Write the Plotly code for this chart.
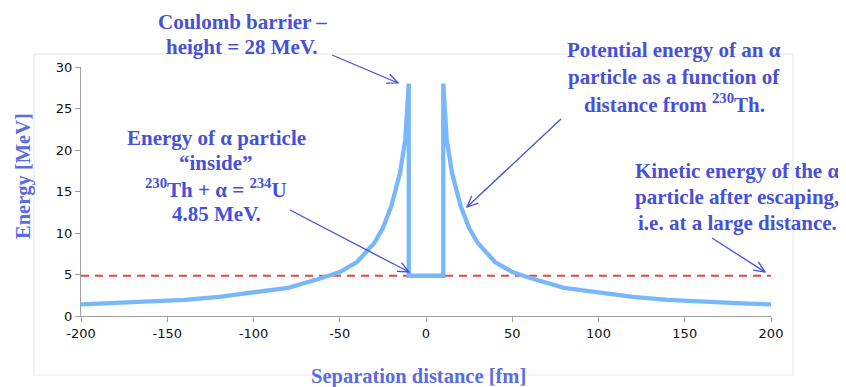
import math
import plotly.graph_objects as go

# ---- data ----
x_left = [-200, -180, -160, -140, -120, -100, -80, -60, -50, -40, -30, -25, -20, -15, -12, -10]
y_left = [1.4, 1.55, 1.72, 1.95, 2.3, 2.8, 3.4, 4.6, 5.3, 6.5, 8.8, 10.6, 13.3, 17.3, 21.3, 28.0]
x_well = [-10, 10]
y_well = [4.85, 4.85]
x_right = [10, 12, 15, 20, 25, 30, 40, 50, 60, 80, 100, 120, 140, 160, 180, 200]
y_right = [28.0, 21.3, 17.3, 13.3, 10.6, 8.8, 6.5, 5.3, 4.6, 3.4, 2.8, 2.3, 1.95, 1.72, 1.55, 1.4]
x_ke = [-200, 200]
y_ke = [4.85, 4.85]
x_ticks = [-200, -150, -100, -50, 0, 50, 100, 150, 200]
x_ticktext = ["-200", "-150", "-100", "-50", "0", "50", "100", "150", "200"]
y_ticks = [0, 5, 10, 15, 20, 25, 30]

OFF = 8  # page body margin
W, H = 838, 379
# plot area in page pixels
PL, PR, PT, PB = 81, 771, 67, 316
ML, MT = PL - OFF, PT - OFF
MR, MB = W - (PR - OFF), H - (PB - OFF)
PW, PH = PR - PL, PB - PT

def px(x):
    return (x - PL) / PW

def py(y):
    return (PB - y) / PH

x_pot = x_left + x_well + x_right
y_pot = y_left + y_well + y_right

fig = go.Figure()
fig.add_trace(go.Scatter(x=x_ke, y=y_ke, mode="lines",
                         line=dict(color="#e34848", width=1.8, dash="8px,6px"),
                         hoverinfo="skip", showlegend=False))
fig.add_trace(go.Scatter(x=x_pot, y=y_pot, mode="lines",
                         line=dict(color="#78b8fa", width=4.3),
                         hoverinfo="skip", showlegend=False))

TXT = "#4651d8"
TITLE = "#5a6ce4"
FONT = "Liberation Serif"
ann = []
shapes = []

def text(cx, ys, lines):
    for cy, s in zip(ys, lines):
        ann.append(dict(x=px(cx), y=py(cy), xref="paper", yref="paper", text=s,
                        showarrow=False, xanchor="center", yanchor="middle", align="center",
                        font=dict(family=FONT, size=21, color=TXT, weight="bold")))

def arrow(sx, sy, tx, ty):
    shapes.append(dict(type="line", xref="paper", yref="paper",
                       x0=px(sx), y0=py(sy), x1=px(tx), y1=py(ty),
                       line=dict(color=TXT, width=1.3)))
    d = math.hypot(tx - sx, ty - sy)
    ux, uy = (tx - sx) / d, (ty - sy) / d
    L, a = 12, math.radians(24)
    pts = []
    for s in (a, -a):
        rx = ux * math.cos(s) - uy * math.sin(s)
        ry = ux * math.sin(s) + uy * math.cos(s)
        pts.append((tx - L * rx, ty - L * ry))
    path = "M {} {} L {} {} L {} {}".format(px(pts[0][0]), py(pts[0][1]), px(tx), py(ty),
                                            px(pts[1][0]), py(pts[1][1]))
    shapes.append(dict(type="path", xref="paper", yref="paper", path=path,
                       line=dict(color=TXT, width=1.3)))

text(242, [22, 47], ["Coulomb barrier –", "height = 28 MeV."])
arrow(332, 55, 398, 83)
text(674, [50, 77, 103], ["Potential energy of an α", "particle as a function of",
                          "distance from <sup>230</sup>Th."])
arrow(561, 119, 467, 207)
text(216, [138, 163, 188, 214], ["Energy of α particle", "“inside”",
                                 "<sup>230</sup>Th + α = <sup>234</sup>U", "4.85 MeV."])
arrow(290, 210, 409, 272)
text(737, [171, 197, 223], ["Kinetic energy of the α", "particle after escaping,",
                            "i.e. at a large distance."])
arrow(712, 238, 765, 272)

# axis titles
ann.append(dict(x=px(23), y=py(176), xref="paper", yref="paper", text="Energy [MeV]",
                showarrow=False, textangle=-90, xanchor="center", yanchor="middle",
                font=dict(family=FONT, size=20.5, color=TITLE, weight="bold")))
ann.append(dict(x=px(418), y=py(376), xref="paper", yref="paper", text="Separation distance [fm]",
                showarrow=False, xanchor="center", yanchor="middle",
                font=dict(family=FONT, size=20.5, color=TITLE, weight="bold")))

# chart frame
shapes.append(dict(type="rect", xref="paper", yref="paper", layer="below",
                   x0=px(34), y0=py(375), x1=px(793), y1=py(54),
                   line=dict(color="#e6e6e6", width=1)))

fig.update_layout(
    width=W, height=H, margin=dict(l=ML, r=MR, t=MT, b=MB),
    paper_bgcolor="white", plot_bgcolor="white",
    annotations=ann, shapes=shapes, showlegend=False,
    xaxis=dict(range=[-200, 200], tickvals=x_ticks, ticktext=x_ticktext,
               showgrid=False, zeroline=False,
               showline=True, linecolor="#a0a0a0", linewidth=1, ticks="outside",
               ticklen=5, tickcolor="#a0a0a0",
               tickfont=dict(family="DejaVu Sans", size=13, color="#111")),
    yaxis=dict(range=[0, 30], tickvals=y_ticks, showgrid=False, zeroline=False,
               showline=True, linecolor="#a0a0a0", linewidth=1, ticks="outside",
               ticklen=5, tickcolor="#a0a0a0",
               tickfont=dict(family="DejaVu Sans", size=13, color="#111")),
)

fig.write_html("out.html")
